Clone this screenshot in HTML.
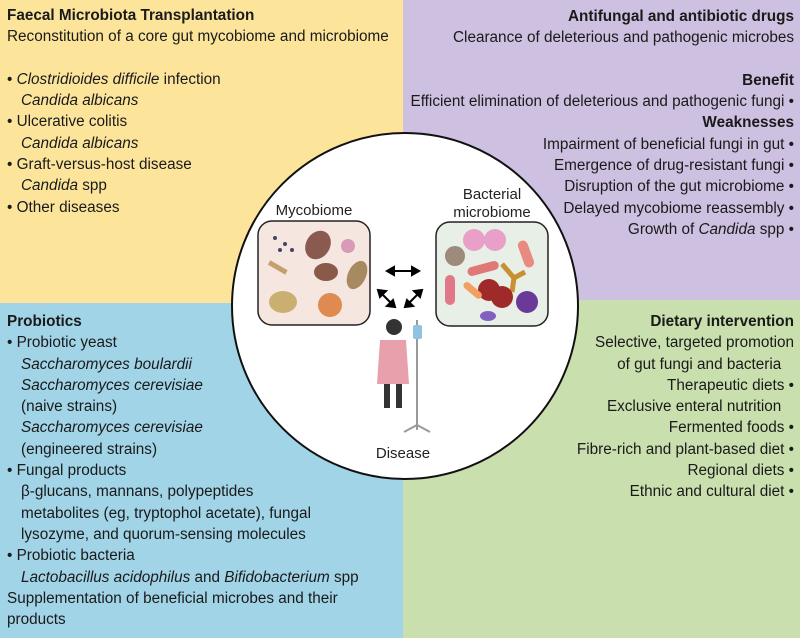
<!DOCTYPE html>
<html><head><meta charset="utf-8"><style>
*{margin:0;padding:0}
body{width:800px;height:638px;position:relative;overflow:hidden;font-family:"Liberation Sans",sans-serif;font-size:15.3px;color:#1a1a1a}
.q{position:absolute}
.t{position:absolute;line-height:21.3px;white-space:nowrap}
.r{text-align:right;right:6px}
b{font-weight:bold}
.in{padding-left:14px}
</style></head><body>
<div class="q" style="left:0;top:0;width:403px;height:303px;background:#fce59b"></div>
<div class="q" style="left:403px;top:0;width:397px;height:300px;background:#cdc0e0"></div>
<div class="q" style="left:0;top:303px;width:403px;height:335px;background:#a1d4e6"></div>
<div class="q" style="left:403px;top:300px;width:397px;height:338px;background:#c9dfae"></div>

<div class="t" style="left:7px;top:5px"><b>Faecal Microbiota Transplantation</b><br>Reconstitution of a core gut mycobiome and microbiome<br>&nbsp;<br>• <i>Clostridioides difficile</i> infection<br><span class="in"><i>Candida albicans</i></span><br>• Ulcerative colitis<br><span class="in"><i>Candida albicans</i></span><br>• Graft-versus-host disease<br><span class="in"><i>Candida</i> spp</span><br>• Other diseases</div>

<div class="t r" style="top:6px"><b>Antifungal and antibiotic drugs</b><br>Clearance of deleterious and pathogenic microbes<br>&nbsp;<br><b>Benefit</b><br>Efficient elimination of deleterious and pathogenic fungi •<br><b>Weaknesses</b><br>Impairment of beneficial fungi in gut •<br>Emergence of drug-resistant fungi •<br>Disruption of the gut microbiome •<br>Delayed mycobiome reassembly •<br>Growth of <i>Candida</i> spp •</div>

<div class="t" style="left:7px;top:311px"><b>Probiotics</b><br>• Probiotic yeast<br><span class="in"><i>Saccharomyces boulardii</i></span><br><span class="in"><i>Saccharomyces cerevisiae</i></span><br><span class="in">(naive strains)</span><br><span class="in"><i>Saccharomyces cerevisiae</i></span><br><span class="in">(engineered strains)</span><br>• Fungal products<br><span class="in">β-glucans, mannans, polypeptides</span><br><span class="in">metabolites (eg, tryptophol acetate), fungal</span><br><span class="in">lysozyme, and quorum-sensing molecules</span><br>• Probiotic bacteria<br><span class="in"><i>Lactobacillus acidophilus</i> and <i>Bifidobacterium</i> spp</span><br>Supplementation of beneficial microbes and their<br>products</div>

<div class="t r" style="top:311px"><b>Dietary intervention</b><br>Selective, targeted promotion<br>of gut fungi and bacteria &nbsp;&nbsp;<br>Therapeutic diets •<br>Exclusive enteral nutrition &nbsp;&nbsp;<br>Fermented foods •<br>Fibre-rich and plant-based diet •<br>Regional diets •<br>Ethnic and cultural diet •</div>

<svg class="q" style="left:0;top:0" width="800" height="638">
<circle cx="405" cy="306" r="173" fill="#fff" stroke="#111" stroke-width="2"/>
<text x="314" y="215" font-size="15" text-anchor="middle" font-family="Liberation Sans" fill="#222">Mycobiome</text>
<text x="492" y="199" font-size="15" text-anchor="middle" font-family="Liberation Sans" fill="#222">Bacterial</text>
<text x="492" y="217" font-size="15" text-anchor="middle" font-family="Liberation Sans" fill="#222">microbiome</text>
<text x="403" y="458" font-size="15" text-anchor="middle" font-family="Liberation Sans" fill="#222">Disease</text>
<rect x="258" y="221" width="112" height="104" rx="14" fill="#f6e6e0" stroke="#222" stroke-width="1.5"/>
<rect x="436" y="222" width="112" height="104" rx="14" fill="#e8efe6" stroke="#222" stroke-width="1.5"/>
<ellipse cx="318" cy="245" rx="12" ry="15" fill="#8a5a50" transform="rotate(30 318 245)"/>
<circle cx="348" cy="246" r="7" fill="#d89ab8"/>
<ellipse cx="326" cy="272" rx="12" ry="9" fill="#8a5a48"/>
<ellipse cx="357" cy="275" rx="9" ry="15" fill="#a88a62" transform="rotate(25 357 275)"/>
<ellipse cx="283" cy="302" rx="14" ry="11" fill="#c9b070"/>
<circle cx="330" cy="305" r="12" fill="#de8a50"/>
<rect x="268" y="265" width="20" height="5" fill="#c4a070" transform="rotate(30 278 267)"/>
<circle cx="275" cy="238" r="2" fill="#446"/><circle cx="285" cy="244" r="2" fill="#446"/><circle cx="292" cy="250" r="2" fill="#446"/><circle cx="280" cy="250" r="2" fill="#446"/>
<circle cx="474" cy="240" r="11" fill="#e8a0c8"/><circle cx="495" cy="240" r="11" fill="#e8a0c8"/>
<circle cx="455" cy="256" r="10" fill="#9e8a7a"/>
<rect x="521" y="240" width="10" height="28" rx="5" fill="#e88a80" transform="rotate(-20 526 254)"/>
<rect x="467" y="264" width="32" height="9" rx="4.5" fill="#e07878" transform="rotate(-15 483 268)"/>
<path d="M502 264 L514 278 L525 272 M514 278 L512 292" stroke="#c89030" stroke-width="5" fill="none"/>
<rect x="445" y="275" width="10" height="30" rx="5" fill="#e07888"/>
<circle cx="489" cy="290" r="11" fill="#a02a2a"/><circle cx="502" cy="297" r="11" fill="#a02a2a"/>
<rect x="462" y="287" width="22" height="7" rx="3.5" fill="#f0a060" transform="rotate(40 473 290)"/>
<circle cx="527" cy="302" r="11" fill="#6a3a9a"/>
<ellipse cx="488" cy="316" rx="8" ry="5" fill="#8060c0"/>
<g stroke="#000" stroke-width="2" fill="#000">
<line x1="392" y1="271" x2="414" y2="271"/>
<path d="M387 271 l7 -4 v8z M419 271 l-7 -4 v8z"/>
<line x1="382" y1="294" x2="391" y2="303"/>
<path d="M378 290 l8 1 l-6 6z M395 307 l-8 -1 l6 -6z"/>
<line x1="418" y1="294" x2="409" y2="303"/>
<path d="M422 290 l-8 1 l6 6z M405 307 l8 -1 l-6 -6z"/>
</g>
<circle cx="394" cy="327" r="8" fill="#333"/>
<path d="M380 340 h26 l3 44 h-32z" fill="#e8a0ac"/>
<rect x="384" y="384" width="6" height="24" fill="#333"/><rect x="396" y="384" width="6" height="24" fill="#333"/>
<line x1="417" y1="320" x2="417" y2="430" stroke="#999" stroke-width="2"/>
<rect x="413" y="325" width="9" height="14" rx="2" fill="#8ec4e0"/>
<path d="M404 432 L417 425 L430 432" stroke="#999" stroke-width="2" fill="none"/>
</svg>
</body></html>
